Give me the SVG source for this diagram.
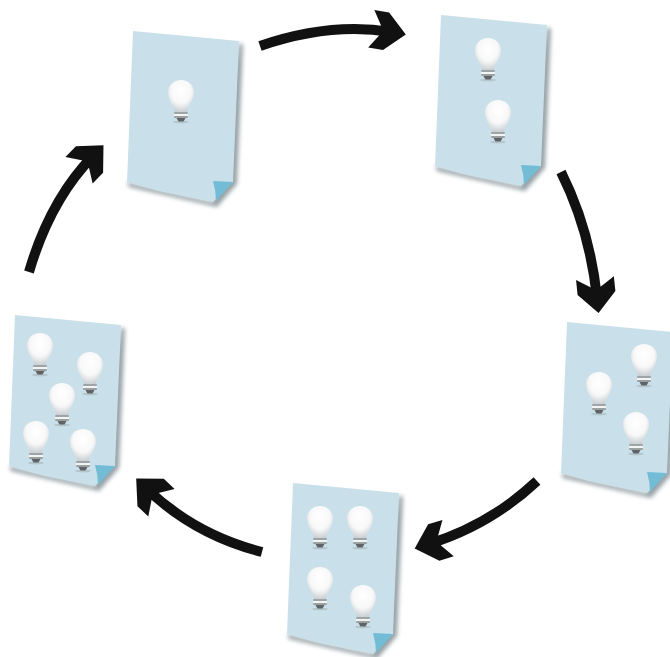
<svg xmlns="http://www.w3.org/2000/svg" width="670" height="657" viewBox="0 0 670 657">
<style>
.sheet{fill:#c9e0ea}
.fold{fill:#72bcd6}
.shade{fill:#7d8b91;opacity:.8;filter:url(#b2)}
.arrow{fill:none;stroke:#111;stroke-width:10;marker-end:url(#head)}
</style>
<defs>
<filter id="b2" x="-20%" y="-20%" width="140%" height="140%"><feGaussianBlur stdDeviation="2"/></filter>
<filter id="b1" x="-20%" y="-20%" width="140%" height="140%"><feGaussianBlur stdDeviation="0.7"/></filter>
<radialGradient id="glass" cx="0.5" cy="0.34" r="0.7">
<stop offset="0" stop-color="#ffffff"/><stop offset="0.55" stop-color="#f8f8f8"/><stop offset="1" stop-color="#c4cacd"/>
</radialGradient>
<marker id="head" markerUnits="userSpaceOnUse" viewBox="-22 -20 42 40" refX="0" refY="0" markerWidth="42" markerHeight="40" orient="auto">
<polygon points="0,0 -20,-19 -35,-19 -26,-5 -26,5 -35,19 -20,19" transform="translate(15,0)" fill="#111"/>
</marker>
<g id="page">
<path class="shade" d="M106,12 L110,14 L104,153 L84,176 L-4,156 L-6,151 L80,171 Z"/>
<path class="sheet" d="M0,0 L106,10 L100,151 L80,171 L30,161 Q10,156 -6,151 Z"/>
<path class="fold" d="M80,150 L100,151 L83,170 Q83,160 80,150 Z"/>
</g>
<g id="bulb" filter="url(#b1)">
<ellipse cx="0" cy="42" rx="8" ry="1.5" fill="#b4c5cc"/>
<path d="M-6,32 C-6,26 -13,21 -13,12 C-13,5 -7,0 0,0 C7,0 13,5 13,12 C13,21 6,26 6,32 Z" fill="url(#glass)"/>
<rect x="-7" y="32" width="14" height="2" rx="1" fill="#9fa5a6"/>
<rect x="-7" y="34" width="14" height="2" fill="#f3f5f5"/>
<rect x="-7" y="36" width="14" height="2" rx="1" fill="#9a9fa0"/>
<path d="M-4.500,38 H4.500 L2.500,41.500 H-2.500 Z" fill="#5e6466"/>
</g>
</defs>
<rect width="670" height="657" fill="#fff"/>
<g id="connectors">
<path class="arrow" d="M260,46 Q330,22 391,32"/>
<path class="arrow" d="M561,172 Q590,230 597,298"/>
<path class="arrow" d="M537,481 Q490,525 429,544"/>
<path class="arrow" d="M262,552 Q195,535 147,489"/>
<path class="arrow" d="M29,272 Q50,200 93,156"/>
</g>
<g id="node-1">
<use href="#page" transform="translate(133,31)"/>
<use href="#bulb" transform="translate(181,80)"/>
</g>
<g id="node-2">
<use href="#page" transform="translate(441,15)"/>
<use href="#bulb" transform="translate(488,38)"/>
<use href="#bulb" transform="translate(498,100)"/>
</g>
<g id="node-3">
<use href="#page" transform="translate(567,322)"/>
<use href="#bulb" transform="translate(644,344)"/>
<use href="#bulb" transform="translate(599,372)"/>
<use href="#bulb" transform="translate(636,412)"/>
</g>
<g id="node-4">
<use href="#page" transform="translate(293,483)"/>
<use href="#bulb" transform="translate(320,506)"/>
<use href="#bulb" transform="translate(360,506)"/>
<use href="#bulb" transform="translate(320,567)"/>
<use href="#bulb" transform="translate(363,585)"/>
</g>
<g id="node-5">
<use href="#page" transform="translate(15,315)"/>
<use href="#bulb" transform="translate(40,333)"/>
<use href="#bulb" transform="translate(90,352)"/>
<use href="#bulb" transform="translate(62,383)"/>
<use href="#bulb" transform="translate(36,421)"/>
<use href="#bulb" transform="translate(83,429)"/>
</g>
</svg>
